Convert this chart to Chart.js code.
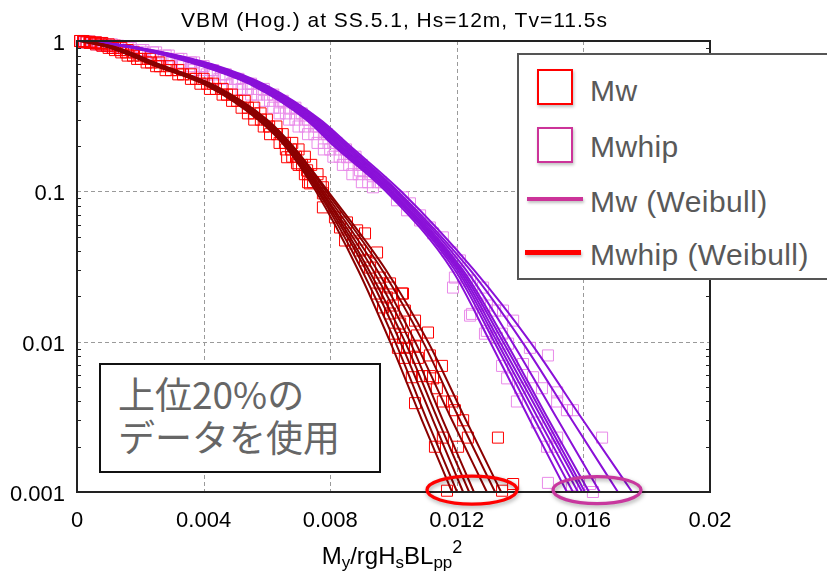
<!DOCTYPE html>
<html><head><meta charset="utf-8">
<script src="https://cdn.jsdelivr.net/npm/chart.js@4/dist/chart.umd.min.js"></script>
<style>
html,body{margin:0;padding:0;background:#fff}
#wrap{position:relative;width:827px;height:573px;overflow:hidden;font-family:"Liberation Sans",Arial,sans-serif}
#c{position:absolute;left:0;top:0}
#title{position:absolute;left:0;width:789px;top:9px;text-align:center;font-size:21px;line-height:21px;letter-spacing:1px;color:#000;white-space:nowrap}
#xt{position:absolute;left:0;width:784px;top:544px;text-align:center;font-size:24px;line-height:24px;color:#000;white-space:nowrap}
#xt sub{font-size:17px;vertical-align:-4px;line-height:0}
#xt sup{font-size:18px;vertical-align:11px;line-height:0}
#legend{position:absolute;left:517px;top:53px;width:330px;height:227px;box-sizing:border-box;border:2px solid #555;background:#fff}
.lm{position:absolute;box-sizing:border-box;box-shadow:1px 2px 3px rgba(0,0,0,0.25)}
.lt{position:absolute;left:590px;font-size:30px;line-height:30px;color:#595959;letter-spacing:0.4px;white-space:nowrap}
#note{position:absolute;left:99px;top:363px;width:282px;height:110px;box-sizing:border-box;border:2px solid #111;background:#fff}
.nt{position:absolute;left:118px;font-family:"Noto Sans CJK JP",sans-serif;font-size:37px;line-height:43px;color:#666;white-space:nowrap}
</style></head><body>
<div id="wrap">
<canvas id="c" width="827" height="573"></canvas>
<div id="title">VBM (Hog.) at SS.5.1, Hs=12m, Tv=11.5s</div>
<div id="xt">M<sub>y</sub>/rgH<sub>s</sub>BL<sub>pp</sub><sup>2</sup></div>
<div id="legend"></div>
<div class="lm" style="left:537px;top:69px;width:36px;height:36px;border:2px solid #ff0000"></div>
<div class="lt" style="top:76px">Mw</div>
<div class="lm" style="left:537px;top:127px;width:36px;height:36px;border:2px solid #cc3399"></div>
<div class="lt" style="top:132px">Mwhip</div>
<div class="lm" style="left:527px;top:197px;width:56px;height:4px;background:#cc3399"></div>
<div class="lt" style="top:187px">Mw (Weibull)</div>
<div class="lm" style="left:525px;top:250px;width:56px;height:5px;background:#ff0000"></div>
<div class="lt" style="top:240px">Mwhip (Weibull)</div>
<div id="note"></div>
<div class="nt" style="top:372px">上位20%の</div>
<div class="nt" style="top:415px">データを使用</div>
</div>
<script>
// ---- axis labels ----
const xTickLabels = ['0','0.004','0.008','0.012','0.016','0.02'];
const yTickLabels = ['0.001','0.01','0.1','1'];

// ---- Weibull fit lines: x at shared exceedance levels ----
const lineProbs = [1, 0.9, 0.7, 0.5, 0.3, 0.2, 0.1, 0.03, 0.01, 0.003, 0.001];
const mwFitX = [
  [0.0001, 0.00104, 0.00234, 0.00414, 0.00572, 0.00657, 0.00755, 0.00888, 0.00989, 0.0109, 0.01185],
  [0.00012, 0.00107, 0.00237, 0.00417, 0.00575, 0.0066, 0.00761, 0.009, 0.01005, 0.01106, 0.01201],
  [0.00014, 0.00111, 0.0024, 0.0042, 0.00581, 0.00664, 0.00765, 0.00913, 0.01021, 0.01125, 0.0122],
  [0.00016, 0.00114, 0.00243, 0.00423, 0.00585, 0.00667, 0.00771, 0.00922, 0.01036, 0.01141, 0.01239],
  [0.00018, 0.00117, 0.00246, 0.00427, 0.00588, 0.0067, 0.00774, 0.00935, 0.01052, 0.01156, 0.01254],
  [0.0002, 0.0012, 0.0025, 0.0043, 0.00591, 0.00673, 0.0078, 0.00948, 0.01068, 0.01185, 0.01295],
  [0.00022, 0.00126, 0.00256, 0.00436, 0.00597, 0.00679, 0.00787, 0.00964, 0.01093, 0.0121, 0.01321],
  [0.00024, 0.0013, 0.00259, 0.00439, 0.006, 0.00682, 0.00793, 0.00976, 0.01109, 0.01229, 0.0134]
];
const mwhipFitX = [
  [0.00022, 0.00174, 0.00376, 0.00559, 0.00724, 0.00812, 0.00976, 0.01185, 0.01305, 0.01431, 0.01548],
  [0.00023, 0.00177, 0.00382, 0.00566, 0.0073, 0.00818, 0.00983, 0.01194, 0.01318, 0.01447, 0.01567],
  [0.00024, 0.0018, 0.00389, 0.00569, 0.00733, 0.00825, 0.00986, 0.01201, 0.01327, 0.0146, 0.01583],
  [0.00025, 0.00183, 0.00395, 0.00575, 0.00739, 0.00831, 0.00992, 0.01207, 0.01336, 0.01472, 0.01596],
  [0.00026, 0.00186, 0.00401, 0.00581, 0.00746, 0.00837, 0.00995, 0.01213, 0.01346, 0.01482, 0.01605],
  [0.00027, 0.00189, 0.00408, 0.00588, 0.00752, 0.00844, 0.01002, 0.01219, 0.01355, 0.01491, 0.01618],
  [0.00028, 0.00193, 0.00414, 0.00591, 0.00755, 0.0085, 0.01008, 0.01229, 0.01374, 0.0152, 0.01652],
  [0.0003, 0.00196, 0.0042, 0.00597, 0.00761, 0.00856, 0.01014, 0.01242, 0.01406, 0.01564, 0.01709],
  [0.00032, 0.00199, 0.00427, 0.00603, 0.00768, 0.00863, 0.01024, 0.01254, 0.01431, 0.01599, 0.01754]
];

// ---- empirical exceedance data (squares): dense upper band, shared levels ----
const bandProbs = [1, 0.99, 0.98, 0.97, 0.95, 0.93, 0.9, 0.87, 0.84, 0.8, 0.76, 0.72, 0.68, 0.64, 0.6, 0.56, 0.52, 0.48, 0.44, 0.4, 0.36, 0.33, 0.3, 0.27, 0.24, 0.21, 0.19, 0.17, 0.15, 0.13, 0.115];
const mwBandX = [
  [0.0001, 0.00022, 0.00041, 0.00057, 0.00076, 0.00095, 0.00114, 0.00136, 0.00155, 0.00177, 0.00202, 0.00234, 0.00262, 0.00297, 0.00335, 0.00376, 0.00411, 0.00439, 0.00474, 0.00506, 0.0054, 0.00559, 0.00581, 0.00607, 0.00632, 0.00657, 0.00676, 0.00692, 0.00711, 0.0073, 0.00746],
  [0.0002, 0.0004, 0.0006, 0.0008, 0.001, 0.0012, 0.0014, 0.0016, 0.0018, 0.002, 0.0023, 0.0026, 0.0029, 0.0032, 0.0036, 0.004, 0.0043, 0.0046, 0.0049, 0.0053, 0.0056, 0.0058, 0.006, 0.0063, 0.0065, 0.0068, 0.007, 0.0072, 0.0074, 0.0076, 0.0077],
  [0.0001, 0.0002, 0.0003, 0.0004, 0.0006, 0.0008, 0.001, 0.0012, 0.0014, 0.0016, 0.0019, 0.0022, 0.0025, 0.0028, 0.0032, 0.0036, 0.0039, 0.0042, 0.0046, 0.0049, 0.0052, 0.0054, 0.0056, 0.0059, 0.0061, 0.0064, 0.0066, 0.0068, 0.007, 0.0072, 0.0073]
];
const mwhipBandX = [
  [0.00025, 0.00041, 0.0006, 0.00079, 0.0011, 0.0013, 0.0017, 0.0021, 0.0025, 0.0029, 0.0033, 0.0037, 0.004, 0.0043, 0.0047, 0.0051, 0.0055, 0.0059, 0.0062, 0.0065, 0.0069, 0.0071, 0.0073, 0.0076, 0.0079, 0.0082, 0.0085, 0.0088, 0.009, 0.0093, 0.0096],
  [0.0002, 0.0003, 0.0005, 0.0007, 0.0009, 0.0012, 0.0016, 0.002, 0.0024, 0.0028, 0.0032, 0.0036, 0.0039, 0.0042, 0.0046, 0.005, 0.0054, 0.0057, 0.006, 0.0064, 0.0067, 0.0069, 0.0072, 0.0075, 0.0078, 0.0081, 0.0083, 0.0086, 0.0089, 0.0092, 0.0095],
  [0.0001, 0.0002, 0.0003, 0.0005, 0.0007, 0.0009, 0.0013, 0.0017, 0.0021, 0.0025, 0.0029, 0.0033, 0.0036, 0.0039, 0.0043, 0.0047, 0.0051, 0.0054, 0.0057, 0.0061, 0.0064, 0.0066, 0.0069, 0.0072, 0.0075, 0.0078, 0.008, 0.0083, 0.0086, 0.0089, 0.0092],
  [0.0001, 0.0002, 0.0003, 0.0004, 0.0006, 0.0008, 0.0011, 0.0015, 0.0019, 0.0023, 0.0027, 0.003, 0.0033, 0.0037, 0.0041, 0.0045, 0.0049, 0.0052, 0.0055, 0.0059, 0.0062, 0.0064, 0.0067, 0.007, 0.0073, 0.0076, 0.0078, 0.0081, 0.0084, 0.0087, 0.009]
];
// ---- sparse lower data, [x, exceedance] ----
const mwMid = [[0.00664,0.1686],[0.00695,0.1538],[0.00727,0.138],[0.00736,0.113],[0.00777,0.1064],[0.00777,0.097],[0.00777,0.0782],[0.00815,0.0671],[0.00831,0.0575],[0.00853,0.0621],[0.00885,0.055],[0.0091,0.0525],[0.00847,0.0471],[0.00872,0.045],[0.00894,0.0404],[0.00948,0.0392],[0.0091,0.0347],[0.00926,0.0311],[0.00957,0.0267],[0.00989,0.0244],[0.0103,0.0209],[0.00948,0.0209]];
const mwTail = [[0.00957,0.0244],[0.00989,0.0229],[0.01027,0.0209],[0.00979,0.0197],[0.00967,0.0169],[0.00998,0.0174],[0.00989,0.0154],[0.01036,0.0161],[0.01068,0.0138],[0.01021,0.0132],[0.01005,0.0113],[0.0103,0.0106],[0.01074,0.011],[0.01109,0.0115],[0.01014,0.0091],[0.01043,0.0091],[0.01068,0.0094],[0.01036,0.0078],[0.01077,0.0078],[0.01115,0.0081],[0.01153,0.0069],[0.01058,0.0058],[0.0109,0.0059],[0.01115,0.0059],[0.01125,0.0057],[0.01137,0.0049],[0.01068,0.0039],[0.01156,0.004],[0.01185,0.004],[0.01194,0.0035],[0.0122,0.003],[0.01156,0.0023],[0.01131,0.002],[0.01204,0.002],[0.01235,0.0023],[0.0133,0.0023],[0.01169,0.00102],[0.01343,0.00102],[0.01378,0.00113]];
const mwhipMid = [[0.00853,0.1686],[0.00894,0.138],[0.00935,0.1064],[0.01011,0.0872],[0.0103,0.0912],[0.01043,0.0748],[0.01052,0.0832],[0.01084,0.0692],[0.01084,0.064],[0.01115,0.0575],[0.01125,0.0525],[0.01156,0.0494],[0.01169,0.0404],[0.01185,0.0392],[0.01201,0.0347],[0.0121,0.0347],[0.01194,0.0267],[0.01232,0.0255],[0.01242,0.0255],[0.01188,0.0229],[0.01283,0.0229]];
const mwhipTail = [[0.01295,0.0174],[0.01321,0.0161],[0.01346,0.0161],[0.01378,0.0138],[0.01289,0.0113],[0.01327,0.0106],[0.01362,0.0097],[0.01431,0.0091],[0.01488,0.0081],[0.01343,0.0069],[0.01409,0.0071],[0.01359,0.0057],[0.01441,0.0058],[0.014,0.0049],[0.01469,0.0049],[0.0139,0.004],[0.01517,0.0046],[0.01517,0.004],[0.01548,0.0035],[0.01567,0.0035],[0.01453,0.0029],[0.01485,0.002],[0.0151,0.002],[0.01517,0.0023],[0.01659,0.0023],[0.01488,0.00115],[0.01564,0.00111],[0.01621,0.00113],[0.0163,0.001],[0.01273,0.0179],[0.01242,0.0149],[0.01248,0.0153],[0.01343,0.0113],[0.01295,0.0118]];

// ---- highlight ellipses (data units for centre) ----
const ellipses = [
  {x: 0.01248, y: 0.00103, rx: 45, ry: 14, color: '#ff0000'},
  {x: 0.01643, y: 0.00103, rx: 44, ry: 13.5, color: '#c8379e'}
];

const RED = '#ff0000', PINK = '#e98ae9', DARKRED = '#8b0000', PURPLE = '#8a10d8';
function sq(data, color, order) {
  return {data, showLine:false, pointStyle:'rect', pointRadius:7.8, pointHoverRadius:7.8,
    pointBorderWidth:1, borderColor:color, pointBorderColor:color,
    backgroundColor:'rgba(0,0,0,0)', pointBackgroundColor:'rgba(0,0,0,0)', clip:false, order};
}
function ln(data, color, order) {
  return {data, showLine:true, pointRadius:0, pointHoverRadius:0, borderColor:color, borderWidth:2,
    cubicInterpolationMode:'monotone', fill:false, clip:false, order};
}
const onLevels = (xsArr, probs) => xsArr.map((x, i) => ({x, y: probs[i]}));
const fromPairs = arr => arr.map(([x, y]) => ({x, y}));

const datasets = [];
mwhipBandX.forEach(r => datasets.push(sq(onLevels(r, bandProbs), PINK, 4)));
datasets.push(sq(fromPairs(mwhipMid), PINK, 4));
datasets.push(sq(fromPairs(mwhipTail), PINK, 4));
mwBandX.forEach(r => datasets.push(sq(onLevels(r, bandProbs), RED, 3)));
datasets.push(sq(fromPairs(mwMid), RED, 3));
datasets.push(sq(fromPairs(mwTail), RED, 3));
mwhipFitX.forEach(r => datasets.push(ln(onLevels(r, lineProbs), PURPLE, 2)));
mwFitX.forEach(r => datasets.push(ln(onLevels(r, lineProbs), DARKRED, 1)));

const decorPlugin = {
  id: 'decor',
  beforeDatasetsDraw(chart) {
    const {ctx, chartArea: a, scales: {x, y}} = chart;
    ctx.save();
    ctx.strokeStyle = '#9a9a9a'; ctx.lineWidth = 1; ctx.setLineDash([4, 3]);
    xTickLabels.slice(1, -1).forEach(l => {
      const px = Math.round(x.getPixelForValue(parseFloat(l))) + 0.5;
      ctx.beginPath(); ctx.moveTo(px, a.top); ctx.lineTo(px, a.bottom); ctx.stroke();
    });
    yTickLabels.slice(1, -1).forEach(l => {
      const py = Math.round(y.getPixelForValue(parseFloat(l))) + 0.5;
      ctx.beginPath(); ctx.moveTo(a.left, py); ctx.lineTo(a.right, py); ctx.stroke();
    });
    ctx.restore();
  },
  afterDatasetsDraw(chart) {
    const {ctx, chartArea: a, scales: {x, y}} = chart;
    ctx.save();
    ctx.strokeStyle = '#222'; ctx.lineWidth = 2; ctx.setLineDash([]);
    ctx.strokeRect(a.left, a.top, a.right - a.left, a.bottom - a.top);
    ctx.lineWidth = 1;
    yTickLabels.slice(0, -1).forEach(l => {
      const base = parseFloat(l);
      for (let k = 2; k <= 9; k++) {
        const py = Math.round(y.getPixelForValue(base * k)) + 0.5;
        ctx.beginPath();
        ctx.moveTo(a.left, py); ctx.lineTo(a.left + 4, py);
        ctx.moveTo(a.right - 4, py); ctx.lineTo(a.right, py);
        ctx.stroke();
      }
    });
    ellipses.forEach(e => {
      ctx.save();
      ctx.beginPath();
      ctx.ellipse(x.getPixelForValue(e.x), y.getPixelForValue(e.y), e.rx, e.ry, 0, 0, Math.PI * 2);
      ctx.lineWidth = 3.3; ctx.strokeStyle = e.color;
      ctx.shadowColor = 'rgba(0,0,0,0.35)'; ctx.shadowBlur = 4; ctx.shadowOffsetX = 1; ctx.shadowOffsetY = 2;
      ctx.stroke();
      ctx.restore();
    });
    ctx.restore();
  }
};

new Chart(document.getElementById('c'), {
  type: 'scatter',
  data: {datasets},
  options: {
    responsive: false, animation: false, devicePixelRatio: 1,
    layout: {padding: {top: 41, right: 117, left: 0, bottom: 0}},
    plugins: {legend: {display: false}, tooltip: {enabled: false}, title: {display: false}},
    events: [],
    scales: {
      x: {
        type: 'linear', min: 0, max: 0.02,
        ticks: {stepSize: 0.004, autoSkip: false, maxRotation: 0, padding: 16, color: '#000',
          font: {family: 'Liberation Sans', size: 22},
          callback: (v, i) => xTickLabels[i]},
        grid: {display: false, drawTicks: false},
        border: {display: false},
        afterFit(s) { s.height = 81; }
      },
      y: {
        type: 'logarithmic', min: 0.001, max: 1,
        afterBuildTicks(s) { s.ticks = yTickLabels.map(l => ({value: parseFloat(l)})); },
        ticks: {autoSkip: false, padding: 12, labelOffset: 3, color: '#000',
          font: {family: 'Liberation Sans', size: 22},
          callback: (v, i) => yTickLabels[i]},
        grid: {display: false, drawTicks: false},
        border: {display: false},
        afterFit(s) { s.width = 77; }
      }
    }
  },
  plugins: [decorPlugin]
});
</script>
</body></html>
